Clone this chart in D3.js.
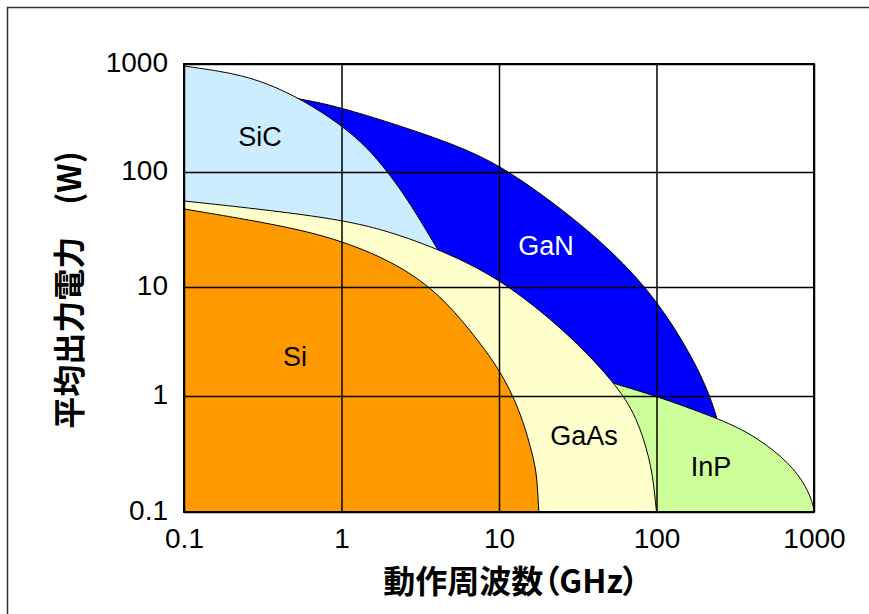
<!DOCTYPE html>
<html lang="ja">
<head>
<meta charset="UTF-8">
<title>平均出力電力 vs 動作周波数</title>
<script src="https://d3js.org/d3.v7.min.js"></script>
<style>
  body { margin: 0; background: #fff; }
  svg { display: block; }
  .tick-label { font-family: "Liberation Sans", Arial, sans-serif; font-size: 28px; fill: #000; }
  .title { font-family: "Noto Sans CJK JP", sans-serif; font-size: 32px; font-weight: bold; fill: #000; font-feature-settings: "palt"; }
  .region { font-family: "Liberation Sans", Arial, sans-serif; font-size: 27px; }
</style>
</head>
<body>
<div id="chart"></div>
<script>
// tick values (both axes are log decades)
const freqTicks = [0.1, 1, 10, 100, 1000];
const powerTicks = [0.1, 1, 10, 100, 1000];

// boundary curves: frequency (GHz) / power (W)
const ganF = [0.5, 0.586, 1.0, 4.89, 10.1, 21.1, 43.8, 87, 147, 209, 242, 253];
const ganP = [485, 464, 400, 190, 116, 57, 25.6, 10, 3.26, 1.21, 0.646, 0.51];

const sicF = [0.1, 0.205, 0.336, 0.57, 1.0, 1.45, 1.97, 2.72, 4.1, 4.6];
const sicP = [958, 826, 667, 464, 272, 170, 100, 54, 21, 16];

const inpF = [50, 54.6, 100, 242, 393, 635, 851, 986, 1000];
const inpP = [1.36, 1.29, 1, 0.646, 0.48, 0.298, 0.189, 0.12, 0.1];

const gaasF = [0.1, 1, 2.35, 4.22, 10.1, 27, 54.6, 75.2, 91, 96.4, 100];
const gaasP = [56, 39.8, 28.3, 21, 12, 3.87, 1.32, 0.659, 0.281, 0.164, 0.1];

const siF = [0.1, 0.407, 1, 2.35, 4.22, 6.55, 10, 13.6, 16.4, 17.4, 17.9];
const siP = [47.7, 34.6, 25.6, 15.5, 8.45, 4.03, 1.81, 0.757, 0.31, 0.208, 0.1];

// drawn back to front
const regionNames = ["GaN", "SiC", "InP", "GaAs", "Si"];
const regionColors = ["#0000ff", "#ccecff", "#ccff99", "#ffffcc", "#ff9900"];

const width = 869, height = 614;
const svg = d3.select("#chart").append("svg")
    .attr("width", width)
    .attr("height", height);

// outer frame (only top and left edges are visible in the crop)
svg.append("path")
    .attr("d", "M7.5,614 V7.5 H869")
    .attr("fill", "none")
    .attr("stroke", "#333")
    .attr("stroke-width", 1.5);

const x = d3.scaleLog().domain([0.1, 1000]).range([184, 814]);
// the decades are not quite evenly spaced in the original
const y = d3.scaleLog().domain([0.1, 1, 10, 100, 1000]).range([512, 396, 287, 172, 64]);

svg.append("clipPath").attr("id", "plot-clip")
    .append("rect")
    .attr("x", 184).attr("y", 64)
    .attr("width", 630).attr("height", 448);

const plot = svg.append("g").attr("clip-path", "url(#plot-clip)");

const curve = d3.curveBasis;
const area = d3.area()
    .x(d => x(d[0]))
    .y0(y(0.1))
    .y1(d => y(d[1]))
    .curve(curve);
const line = d3.line()
    .x(d => x(d[0]))
    .y(d => y(d[1]))
    .curve(curve);

const regions = [
    d3.zip(ganF, ganP),
    d3.zip(sicF, sicP),
    d3.zip(inpF, inpP),
    d3.zip(gaasF, gaasP),
    d3.zip(siF, siP)
];

regions.forEach((pts, i) => {
    plot.append("path")
        .attr("d", area(pts))
        .attr("fill", regionColors[i]);
    plot.append("path")
        .attr("d", line(pts))
        .attr("fill", "none")
        .attr("stroke", "#000")
        .attr("stroke-width", 1);
});

// grid lines
const gx = svg.append("g")
    .attr("transform", "translate(0,512)")
    .call(d3.axisBottom(x).tickValues(freqTicks).tickSize(-448).tickFormat(""));
const gy = svg.append("g")
    .attr("transform", "translate(184,0)")
    .call(d3.axisLeft(y).tickValues(powerTicks).tickSize(-630).tickFormat(""));
[gx, gy].forEach(g => {
    g.select(".domain").remove();
    g.selectAll("line").attr("stroke", "#000").attr("stroke-width", 1.5);
});

svg.append("rect")
    .attr("x", 184).attr("y", 64)
    .attr("width", 630).attr("height", 448)
    .attr("fill", "none")
    .attr("stroke", "#000")
    .attr("stroke-width", 2);

// tick labels
const xAxis = svg.append("g")
    .attr("transform", "translate(0,512)")
    .call(d3.axisBottom(x).tickValues(freqTicks).tickSize(0).tickPadding(16).tickFormat(d3.format("~g")));
const yAxis = svg.append("g")
    .attr("transform", "translate(184,0)")
    .call(d3.axisLeft(y).tickValues(powerTicks).tickSize(0).tickPadding(16).tickFormat(d3.format("~g")));
[xAxis, yAxis].forEach(g => {
    g.attr("font-size", null).attr("font-family", null);
    g.select(".domain").remove();
    g.selectAll("text").attr("class", "tick-label");
});
yAxis.selectAll("text").attr("dy", "0.25em");

// region labels
const labelXY = [[546, 246], [260, 137], [711, 467], [584, 436], [295, 357]];
regionNames.forEach((name, i) => {
    svg.append("text")
        .attr("class", "region")
        .attr("x", labelXY[i][0])
        .attr("y", labelXY[i][1])
        .attr("text-anchor", "middle")
        .attr("dominant-baseline", "central")
        .attr("fill", name === "GaN" ? "#fff" : "#000")
        .text(name);
});

// axis titles
svg.append("text")
    .attr("class", "title")
    .attr("x", 511).attr("y", 579)
    .attr("text-anchor", "middle")
    .attr("dominant-baseline", "central")
    .text("動作周波数（GHz）");

svg.append("text")
    .attr("class", "title")
    .attr("transform", "translate(67,290) rotate(-90)")
    .attr("text-anchor", "middle")
    .attr("dominant-baseline", "central")
    .text("平均出力電力　(W)");
</script>
</body>
</html>
